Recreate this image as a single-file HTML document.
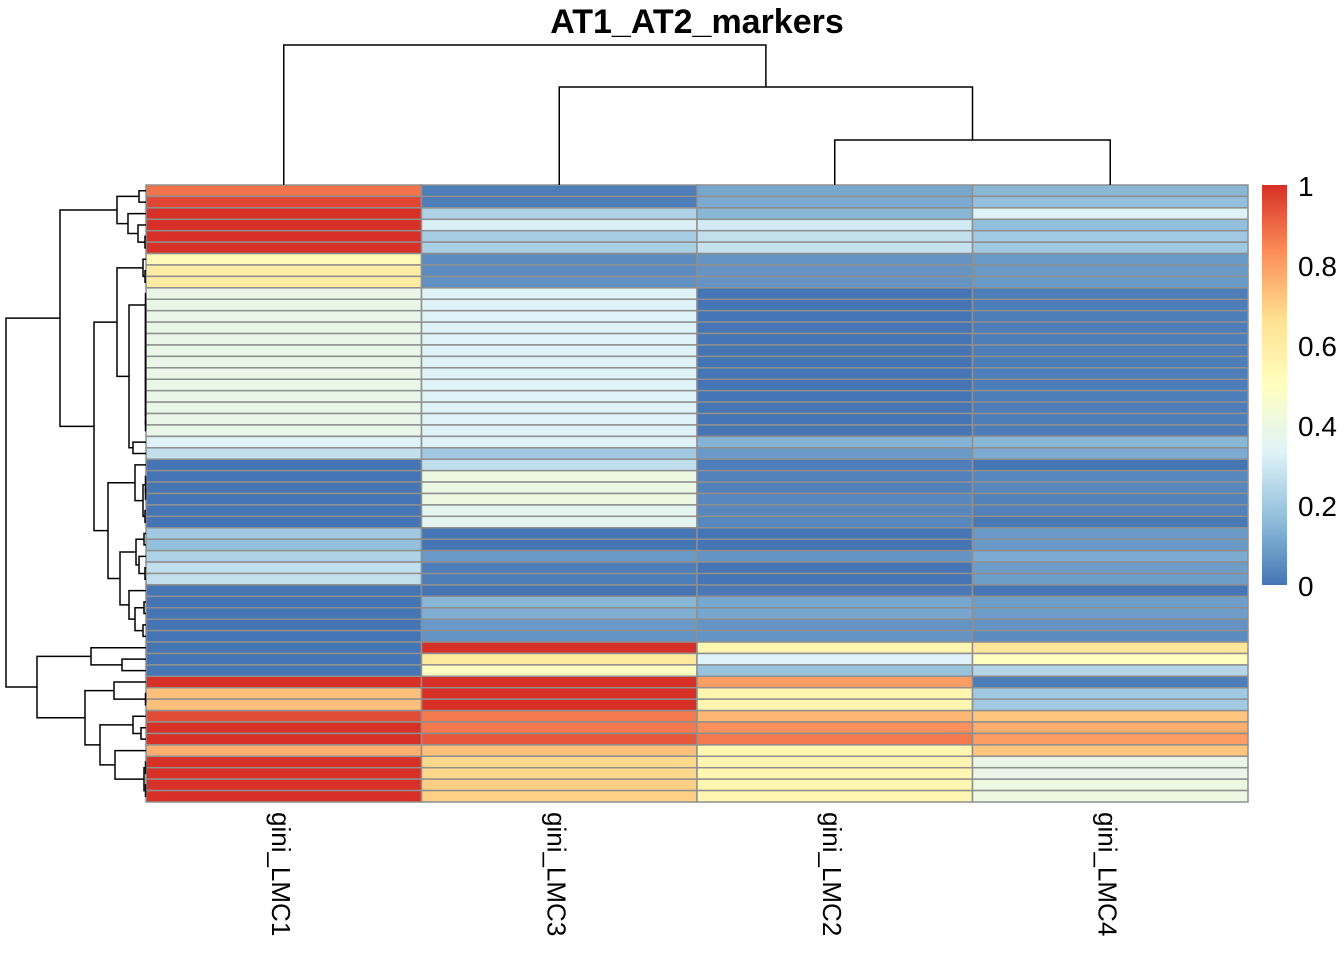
<!DOCTYPE html>
<html><head><meta charset="utf-8"><style>
html,body{margin:0;padding:0;background:#fff;}
svg{display:block;font-family:"Liberation Sans",Arial,sans-serif;}
</style></head><body>
<svg id="chart" width="1344" height="960" viewBox="0 0 1344 960">
<defs><linearGradient id="lg" x1="0" y1="1" x2="0" y2="0">
<stop offset="0" stop-color="#4575B4"/><stop offset="0.1667" stop-color="#91BFDB"/><stop offset="0.3333" stop-color="#E0F3F8"/><stop offset="0.5" stop-color="#FFFFBF"/><stop offset="0.6667" stop-color="#FEE090"/><stop offset="0.8333" stop-color="#FC8D59"/><stop offset="1" stop-color="#D73027"/></linearGradient></defs>
<text x="697" y="33" text-anchor="middle" font-size="34" font-weight="bold">AT1_AT2_markers</text>
<g id="cells"></g>
<g id="rowdend"></g>
<g id="coldend"></g>
<g id="labels"></g>
<g>
<rect x="1262" y="185" width="25" height="400" fill="url(#lg)"/>
<g id="legendticks"></g>
</g>
</svg>
<script>
const columns = ["gini_LMC1","gini_LMC3","gini_LMC2","gini_LMC4"];
const lmc1 = [0.88,0.96,1,1,1,1,0.53,0.6,0.6,0.38,0.38,0.38,0.38,0.38,0.38,0.38,0.38,0.38,0.38,0.38,0.38,0.38,0.33,0.27,0,0,0,0,0,0,0.2,0.17,0.23,0.27,0.27,0,0,0,0,0,0,0,0,1,0.73,0.73,0.95,1,1,0.77,1,1,1,1];
const lmc3 = [0.02,0.02,0.23,0.32,0.21,0.22,0.05,0.05,0.06,0.33,0.33,0.33,0.33,0.33,0.33,0.33,0.33,0.33,0.33,0.33,0.33,0.33,0.33,0.2,0.27,0.4,0.4,0.4,0.36,0.36,0,0,0.08,0.02,0.02,0,0.15,0.13,0.08,0.07,1,0.62,0.5,1,1,1,0.87,0.87,0.93,0.73,0.68,0.68,0.7,0.7];
const lmc2 = [0.11,0.12,0.15,0.3,0.27,0.28,0.07,0.07,0.07,0,0,0,0,0,0,0,0,0,0,0,0,0,0.14,0.08,0.02,0.03,0.03,0.04,0.04,0.04,0,0,0.07,0,0,0.01,0.11,0.11,0.07,0.07,0.55,0.33,0.18,0.8,0.55,0.55,0.75,0.83,0.87,0.55,0.55,0.55,0.55,0.55];
const lmc4 = [0.15,0.17,0.33,0.17,0.2,0.2,0.08,0.08,0.08,0.02,0.02,0.02,0.02,0.02,0.02,0.02,0.02,0.02,0.02,0.02,0.02,0.02,0.15,0.12,0,0.04,0.04,0.03,0.03,0.01,0.08,0.08,0.12,0.09,0.09,0,0.09,0.09,0.07,0.05,0.63,0.5,0.24,0.02,0.2,0.2,0.72,0.77,0.8,0.72,0.38,0.38,0.4,0.4];
const legendTicks = [0,0.2,0.4,0.6,0.8,1];
// dendrogram merge heights (tree: [height, left, right])
const r921 = [0.5,9,[0.5,10,[0.5,11,[0.5,12,[0.5,13,[0.5,14,[0.5,15,[0.5,16,[0.5,17,[0.5,18,[0.5,19,[0.5,20,21]]]]]]]]]]]];
const rowTree = [140,
 [86,
  [29,[7,0,1],[18,2,[8,3,[1,4,5]]]],
  [52,
   [29,[3,6,[1,7,8]],[17,r921,[13,22,23]]],
   [38,[11,24,[3,[0.5,25,[0.5,26,27]],[1,28,29]]],
       [26,[10,[2,30,31],[7,32,[1,33,34]]],[17,35,[11,[2,36,37],[3,38,39]]]]]]],
 [109,[55,40,[24,41,42]],
  [61,[32,43,[0.5,44,45]],
   [46,[13,46,[5,47,48]],[31,49,[2,[0.5,50,51],[0.5,52,53]]]]]]];
const colTree = [140,0,[98,1,[45,2,3]]];

const series=[lmc1,lmc3,lmc2,lmc4];
const X0=146,X1=1248,Y0=185,Y1=802;
const nR=lmc1.length,nC=columns.length;
const cw=(X1-X0)/nC,rh=(Y1-Y0)/nR;
const NS="http://www.w3.org/2000/svg";
const stops=[[0,[0x45,0x75,0xB4]],[1/6,[0x91,0xBF,0xDB]],[2/6,[0xE0,0xF3,0xF8]],[3/6,[0xFF,0xFF,0xBF]],[4/6,[0xFE,0xE0,0x90]],[5/6,[0xFC,0x8D,0x59]],[1,[0xD7,0x30,0x27]]];
function color(v){v=Math.max(0,Math.min(1,v));for(let i=1;i<stops.length;i++){if(v<=stops[i][0]){const a=stops[i-1],b=stops[i];const t=(v-a[0])/(b[0]-a[0]);const c=a[1].map((x,k)=>Math.round(x+(b[1][k]-x)*t));return `rgb(${c})`;}}return "rgb(215,48,39)";}
function el(tag,attrs,parent){const e=document.createElementNS(NS,tag);for(const k in attrs)e.setAttribute(k,attrs[k]);parent.appendChild(e);return e;}
const cells=document.getElementById('cells');
for(let c=0;c<nC;c++)for(let r=0;r<nR;r++){
 const e=el('rect',{x:X0+c*cw,y:Y0+r*rh,width:cw,height:rh,fill:color(series[c][r]),stroke:'#8f8f8f','stroke-width':1.5},cells);
 
 
}
const rd=document.getElementById('rowdend');
function drawRow(n){ if(typeof n==='number')return {y:Y0+(n+0.5)*rh,x:X0};
 const a=drawRow(n[1]),b=drawRow(n[2]);const x=X0-n[0];
 const p=el('path',{d:`M${a.x},${a.y}H${x}V${b.y}H${b.x}`,fill:'none',stroke:'#000','stroke-width':1.5},rd);
 
 
 return {x:x,y:(a.y+b.y)/2};}
drawRow(rowTree);
const cd=document.getElementById('coldend');
function drawCol(n){ if(typeof n==='number')return {x:X0+(n+0.5)*cw,y:Y0};
 const a=drawCol(n[1]),b=drawCol(n[2]);const y=Y0-n[0];
 const p=el('path',{d:`M${a.x},${a.y}V${y}H${b.x}V${b.y}`,fill:'none',stroke:'#000','stroke-width':1.5},cd);
 
 
 return {x:(a.x+b.x)/2,y:y};}
drawCol(colTree);
const lb=document.getElementById('labels');
columns.forEach((name,c)=>{const x=X0+(c+0.5)*cw-12;
 const t=el('text',{x:x,y:812,transform:`rotate(90 ${x} 812)`,'font-size':26},lb);
 t.textContent=name;
 
 });
const lt=document.getElementById('legendticks');
legendTicks.forEach(v=>{const y=585-v*400;
 const t=el('text',{x:1298,y:y+11,'font-size':28},lt);
 t.textContent=String(v);
 
 });
</script>
</body></html>
